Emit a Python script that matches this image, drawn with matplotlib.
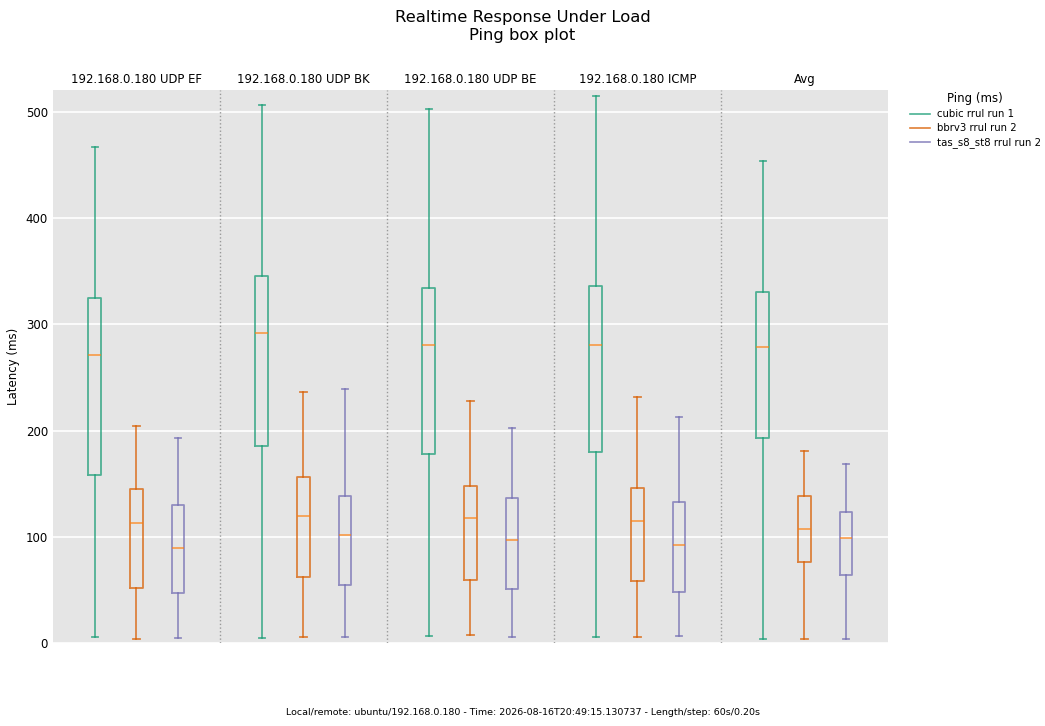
import matplotlib
matplotlib.use("Agg")
import matplotlib.pyplot as plt

groups = ["192.168.0.180 UDP EF", "192.168.0.180 UDP BK", "192.168.0.180 UDP BE",
          "192.168.0.180 ICMP", "Avg"]
series = ["cubic rrul run 1", "bbrv3 rrul run 2", "tas_s8_st8 rrul run 2"]
colors = ["#1b9e77", "#d95f02", "#7570b3"]

# per series: one value per group
whislo = [
    [5.9, 4.7, 6.6, 5.7, 4.1],
    [4.1, 5.7, 7.5, 5.7, 4.1],
    [4.7, 5.7, 5.7, 6.6, 3.8],
]
q1 = [
    [158.5, 185.8, 178.3, 180.2, 192.7],
    [51.6, 62.3, 59.4, 58.5, 76.1],
    [47.2, 54.7, 50.9, 48.1, 64.4],
]
med = [
    [270.8, 291.5, 280.2, 280.2, 279.0],
    [112.6, 119.8, 117.9, 115.1, 107.5],
    [89.3, 101.6, 97.2, 92.5, 99.0],
]
q3 = [
    [324.5, 345.3, 334.0, 335.8, 330.5],
    [145.0, 156.0, 148.1, 146.2, 138.7],
    [129.9, 138.0, 136.8, 133.0, 123.6],
]
whishi = [
    [467.0, 506.6, 502.8, 515.0, 453.8],
    [204.1, 236.8, 228.3, 232.0, 180.8],
    [193.4, 239.6, 202.8, 213.2, 168.2],
]
yticks = [0, 100, 200, 300, 400, 500]

fig = plt.figure(figsize=(10.45, 7.26), dpi=100)
ax = fig.add_axes([0.0507, 0.1145, 0.799, 0.761])
ax.set_facecolor("#e5e5e5")
for s in ax.spines.values():
    s.set_visible(False)

ng = len(groups)
for si, name in enumerate(series):
    stats = []
    pos = []
    for g in range(ng):
        stats.append(dict(med=med[si][g], q1=q1[si][g], q3=q3[si][g],
                          whislo=whislo[si][g], whishi=whishi[si][g], fliers=[]))
        pos.append(4 * g + si + 1)
    c = colors[si]
    ax.bxp(stats, positions=pos, widths=0.3, capwidths=0.15, showfliers=False,
           boxprops=dict(color=c, linewidth=1.3, alpha=0.75),
           whiskerprops=dict(color=c, linewidth=1.2, alpha=0.8),
           capprops=dict(color=c, linewidth=1.3, alpha=0.75),
           medianprops=dict(color="#ff7f0e", linewidth=1.1, alpha=0.8),
           manage_ticks=False)
    ax.plot([], [], color=c, linewidth=1.2, alpha=0.8, label=name)

for g in range(1, ng):
    ax.axvline(4 * g, color="#999999", linestyle=":", linewidth=1.0, zorder=1)

for g, label in enumerate(groups):
    ax.text(4 * g + 2, 1.008, label, transform=ax.get_xaxis_transform(),
            ha="center", va="bottom", fontsize=8.4)

ax.set_xlim(0, 4 * ng)
ax.set_ylim(0, 520.5)
ax.set_yticks(yticks)
ax.set_xticks([])
ax.yaxis.grid(True, color="white", linewidth=1.2)
ax.set_axisbelow(True)
ax.tick_params(axis="y", length=0, labelsize=8.5)
ax.set_ylabel("Latency (ms)", fontsize=8.5)

fig.suptitle("Realtime Response Under Load\nPing box plot", fontsize=11.8, y=0.986)

leg = ax.legend(title="Ping (ms)", loc="upper left", bbox_to_anchor=(1.015, 1.013),
                frameon=False, fontsize=7.3, title_fontsize=8.5, handlelength=2.0,
                handletextpad=0.7, labelspacing=0.4)

fig.text(0.5, 0.012, "Local/remote: ubuntu/192.168.0.180 - Time: 2026-08-16T20:49:15.130737 - Length/step: 60s/0.20s",
         ha="center", va="bottom", fontsize=6.8)

fig.savefig("out.png", dpi=100)
